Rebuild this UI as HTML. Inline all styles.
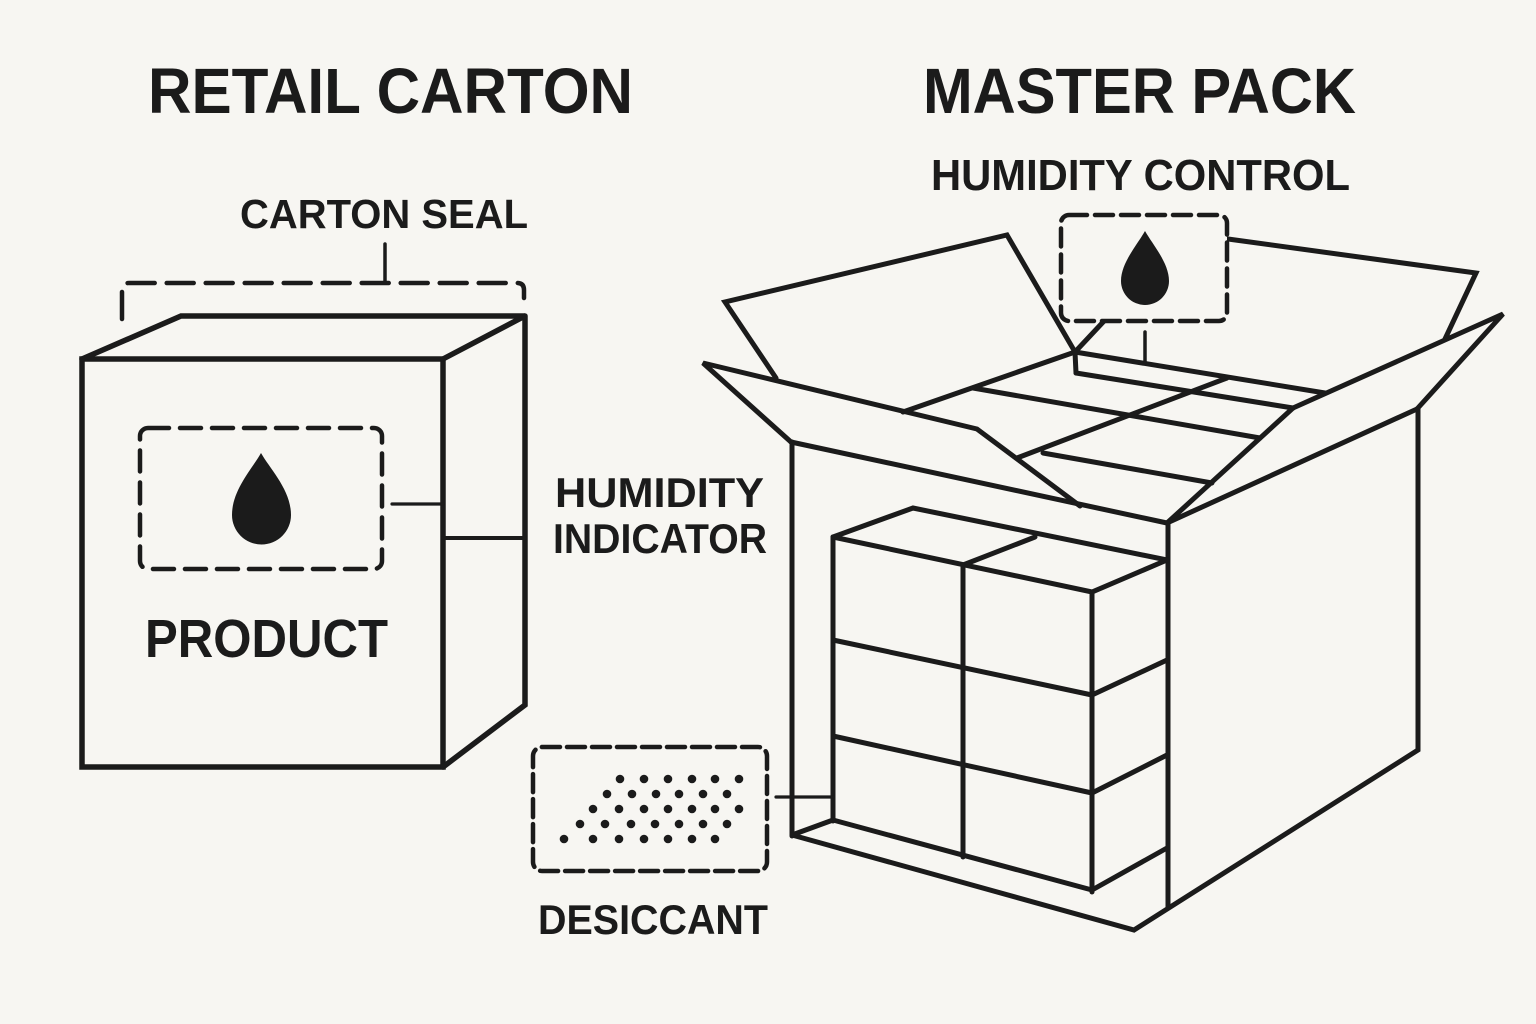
<!DOCTYPE html>
<html>
<head>
<meta charset="utf-8">
<style>
  html, body { margin: 0; padding: 0; background: #f7f6f2; }
  svg { display: block; }
  text { font-family: "Liberation Sans", Arial, sans-serif; font-weight: bold; fill: #1b1b1b; }
</style>
</head>
<body>
<svg width="1536" height="1024" viewBox="0 0 1536 1024" xmlns="http://www.w3.org/2000/svg">
  <rect width="1536" height="1024" fill="#f7f6f2"/>

  <!-- Titles -->
  <text x="148" y="113" font-size="64" textLength="485" lengthAdjust="spacingAndGlyphs">RETAIL CARTON</text>
  <text x="923" y="113" font-size="64" textLength="433" lengthAdjust="spacingAndGlyphs">MASTER PACK</text>

  <!-- Labels -->
  <text x="240" y="228" font-size="41" textLength="288" lengthAdjust="spacingAndGlyphs">CARTON SEAL</text>
  <text x="931" y="190" font-size="44" textLength="419" lengthAdjust="spacingAndGlyphs">HUMIDITY CONTROL</text>
  <text x="555" y="507" font-size="42" textLength="209" lengthAdjust="spacingAndGlyphs">HUMIDITY</text>
  <text x="553" y="553" font-size="42" textLength="214" lengthAdjust="spacingAndGlyphs">INDICATOR</text>
  <text x="145" y="657" font-size="54" textLength="243" lengthAdjust="spacingAndGlyphs">PRODUCT</text>
  <text x="538" y="934" font-size="42" textLength="230" lengthAdjust="spacingAndGlyphs">DESICCANT</text>

  <g fill="none" stroke="#1b1b1b" stroke-linejoin="miter" stroke-linecap="round">
    <!-- ============ LEFT RETAIL CARTON ============ -->
    <!-- seal bracket -->
    <path d="M122 319 L122 290 Q122 283 129 283 L517 283 Q524 283 524 290 L524 298" stroke-width="4.5" stroke-dasharray="27 12"/>
    <path d="M385 244 L385 283 L372 283" stroke-width="3.5"/>

    <!-- box -->
    <g stroke-width="5.5">
      <polygon points="82,359 443,359 443,767 82,767"/>
      <polyline points="82,359 181,316 525,316 443,359"/>
      <polyline points="525,316 525,705 443,767"/>
    </g>
    <line x1="443" y1="538" x2="525" y2="538" stroke-width="4"/>
    <line x1="392" y1="504" x2="443" y2="504" stroke-width="3.2"/>

    <!-- product dashed box -->
    <rect x="140" y="428" width="242" height="141" rx="8" stroke-width="4.5" stroke-dasharray="21 11"/>

    <!-- ============ RIGHT MASTER PACK ============ -->
    <g stroke-width="5">
      <!-- body -->
      <line x1="792" y1="442" x2="792" y2="836"/>
      <polyline points="792,835 1134,930 1418,750 1418,409"/>
      <line x1="1168" y1="523" x2="1168" y2="908"/>
      <line x1="791" y1="442" x2="1167" y2="523"/>
      <line x1="1167" y1="523" x2="1417" y2="409"/>

      <!-- front-left flap -->
      <polyline points="791,442 703,363 977,429 1080,506"/>

      <!-- back-left flap -->
      <polyline points="776,378 725,302 1007,235 1075,352"/>

      <!-- interior -->
      <line x1="903" y1="412" x2="1075" y2="352"/>
      <line x1="1075" y1="352" x2="1105" y2="320"/>
      <line x1="1075" y1="352" x2="1076" y2="373"/>
      <line x1="1075" y1="352" x2="1325" y2="393"/>
      <line x1="1076" y1="373" x2="1293" y2="408"/>
      <line x1="973" y1="388" x2="1260" y2="438"/>
      <line x1="1043" y1="453" x2="1212" y2="483"/>
      <line x1="1017" y1="458" x2="1227" y2="378"/>
      <line x1="1167" y1="523" x2="1293" y2="408"/>
      <polyline points="1293,408 1503,314 1417,409"/>

      <!-- back-right flap -->
      <polyline points="1228,239 1476,273 1445,339"/>

      <!-- inner stack -->
      <line x1="833" y1="537" x2="833" y2="821"/>
      <polyline points="833,537 913,508 1167,560"/>
      <polyline points="833,537 1092,592 1167,560"/>
      <line x1="963" y1="565" x2="1035" y2="537"/>
      <line x1="963" y1="565" x2="963" y2="857"/>
      <line x1="1092" y1="592" x2="1092" y2="892"/>
      <line x1="833" y1="640" x2="1092" y2="695"/>
      <line x1="833" y1="736" x2="1092" y2="793"/>
      <line x1="833" y1="820" x2="1092" y2="890"/>
      <line x1="1092" y1="695" x2="1167" y2="660"/>
      <line x1="1092" y1="793" x2="1167" y2="755"/>
      <line x1="1092" y1="890" x2="1167" y2="848"/>
      <line x1="792" y1="835" x2="833" y2="820"/>
    </g>

    <!-- humidity control box -->
    <rect x="1061" y="215" width="166" height="106" rx="8" fill="#f7f6f2" stroke-width="4.5" stroke-dasharray="18 8"/>
    <line x1="1145" y1="332" x2="1145" y2="363" stroke-width="3.5"/>

    <!-- desiccant box -->
    <rect x="533" y="747" width="234" height="124" rx="9" stroke-width="4.5" stroke-dasharray="18 7"/>
    <line x1="776" y1="797" x2="833" y2="797" stroke-width="3.2"/>
  </g>

  <!-- drops -->
  <path d="M261 453 C252 469 232 490 232 515 A29.5 29.5 0 0 0 291 515 C291 490 270 469 261 453 Z" fill="#1b1b1b"/>
  <path d="M1145 231 C1137 245 1121 263 1121 281 A24 24 0 0 0 1169 281 C1169 263 1153 245 1145 231 Z" fill="#1b1b1b"/>

  <!-- desiccant dots -->
  <g fill="#1b1b1b">
    <circle cx="620" cy="779" r="4.3"/><circle cx="644" cy="779" r="4.3"/><circle cx="668" cy="779" r="4.3"/><circle cx="692" cy="779" r="4.3"/><circle cx="715" cy="779" r="4.3"/><circle cx="739" cy="779" r="4.3"/>
    <circle cx="607" cy="794" r="4.3"/><circle cx="632" cy="794" r="4.3"/><circle cx="656" cy="794" r="4.3"/><circle cx="679" cy="794" r="4.3"/><circle cx="703" cy="794" r="4.3"/><circle cx="727" cy="794" r="4.3"/>
    <circle cx="593" cy="809" r="4.3"/><circle cx="619" cy="809" r="4.3"/><circle cx="644" cy="809" r="4.3"/><circle cx="668" cy="809" r="4.3"/><circle cx="692" cy="809" r="4.3"/><circle cx="715" cy="809" r="4.3"/><circle cx="739" cy="809" r="4.3"/>
    <circle cx="580" cy="824" r="4.3"/><circle cx="605" cy="824" r="4.3"/><circle cx="631" cy="824" r="4.3"/><circle cx="655" cy="824" r="4.3"/><circle cx="679" cy="824" r="4.3"/><circle cx="703" cy="824" r="4.3"/><circle cx="727" cy="824" r="4.3"/>
    <circle cx="564" cy="839" r="4.3"/><circle cx="593" cy="839" r="4.3"/><circle cx="619" cy="839" r="4.3"/><circle cx="644" cy="839" r="4.3"/><circle cx="668" cy="839" r="4.3"/><circle cx="692" cy="839" r="4.3"/><circle cx="715" cy="839" r="4.3"/>
  </g>
</svg>
</body>
</html>
